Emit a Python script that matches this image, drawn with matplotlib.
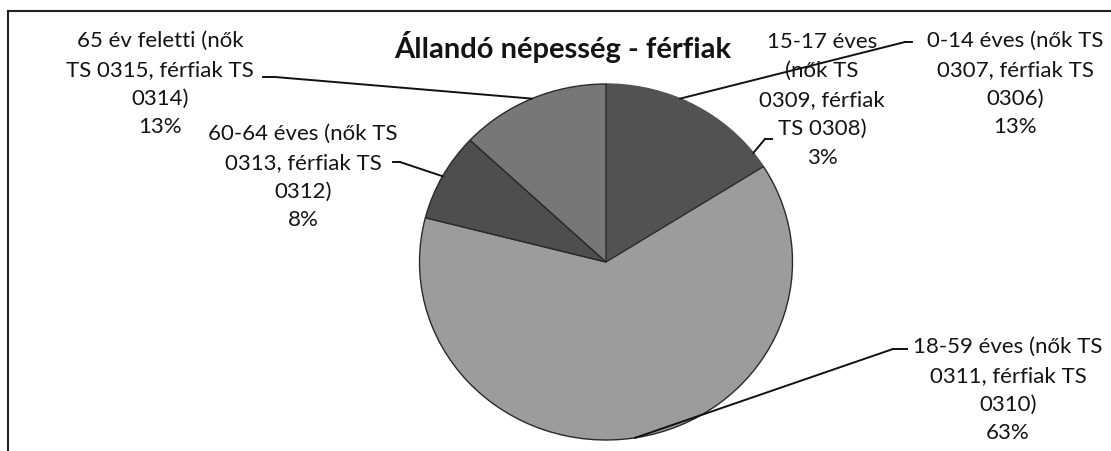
import matplotlib.pyplot as plt
import numpy as np

plt.rcParams['font.family'] = ['Lato', 'DejaVu Sans']

labels = [
    '0-14 éves (nők TS\n0307, férfiak TS\n0306)',
    '15-17 éves\n(nők TS\n0309, férfiak\nTS 0308)',
    '18-59 éves (nők TS\n0311, férfiak TS\n0310)',
    '60-64 éves (nők TS\n0313, férfiak TS\n0312)',
    '65 év feletti (nők\nTS 0315, férfiak TS\n0314)',
]
shares = [13, 3, 63, 8, 13]
colors = ['#525252', '#525252', '#9c9c9c', '#4e4e4e', '#777777']

# label block centres, leader tails (figure pixels, top-left origin)
text_pos = [(1015, 84), (822, 100), (1008, 390), (303, 177), (160, 84)]
tail = [((905, 43), (912, 43)), ((765, 140), (772, 140)), ((893, 350), (907, 350)),
        ((393, 163), (400, 163)), ((263, 78), (275, 78))]
leader_side = [0, 0, 0, 1, 1]  # which tail point joins the pie

W, H = 1111, 452
fig = plt.figure(figsize=(W / 100, H / 100), dpi=100)

cx, cy, rx, ry = 606, 263, 186.5, 178
ax = fig.add_axes([(cx - rx) / W, (H - cy - ry) / H, 2 * rx / W, 2 * ry / H])
wedges, _ = ax.pie(shares, colors=colors, startangle=90, counterclock=False,
                   wedgeprops=dict(edgecolor='#2a2a2a', linewidth=1.0))
wedges[0].set_edgecolor(colors[0])
wedges[1].set_edgecolor(colors[1])
ax.set_aspect('auto')
ax.set_xlim(-1, 1)
ax.set_ylim(-1, 1)
ax.axis('off')

def to_fig(px, py):
    return px / W, 1 - py / H

for w, lab, s, tp, tl, side in zip(wedges, labels, shares, text_pos, tail, leader_side):
    ang = np.deg2rad((w.theta1 + w.theta2) / 2)
    x, y = np.cos(ang), np.sin(ang)
    disp = ax.transAxes.transform(((x + 1) / 2, (y + 1) / 2))
    fx, fy = fig.transFigure.inverted().transform(disp)
    a = to_fig(*tl[0])
    b = to_fig(*tl[1])
    jx, jy = to_fig(*tl[side])
    fig.add_artist(plt.Line2D([a[0], b[0]], [a[1], b[1]], color='#111111', lw=1.4,
                              transform=fig.transFigure))
    fig.add_artist(plt.Line2D([jx, fx], [jy, fy], color='#111111', lw=1.4,
                              transform=fig.transFigure))
    tx, ty = to_fig(*tp)
    fig.text(tx, ty, f'{lab}\n{s}%', ha='center', va='center', fontsize=16,
             linespacing=1.55, color='#141414')

fig.text(563 / W, 1 - 47 / H, 'Állandó népesség - férfiak', ha='center',
         va='center', fontsize=21, fontweight='bold', color='#141414')

# chart frame (only top and left edges visible)
fig.add_artist(plt.Line2D([8 / W, 1], [1 - 12 / H, 1 - 12 / H], color='#222222',
                          lw=1.5, transform=fig.transFigure))
fig.add_artist(plt.Line2D([8 / W, 8 / W], [0, 1 - 12 / H], color='#222222',
                          lw=1.5, transform=fig.transFigure))

fig.savefig('out.png', dpi=100)
